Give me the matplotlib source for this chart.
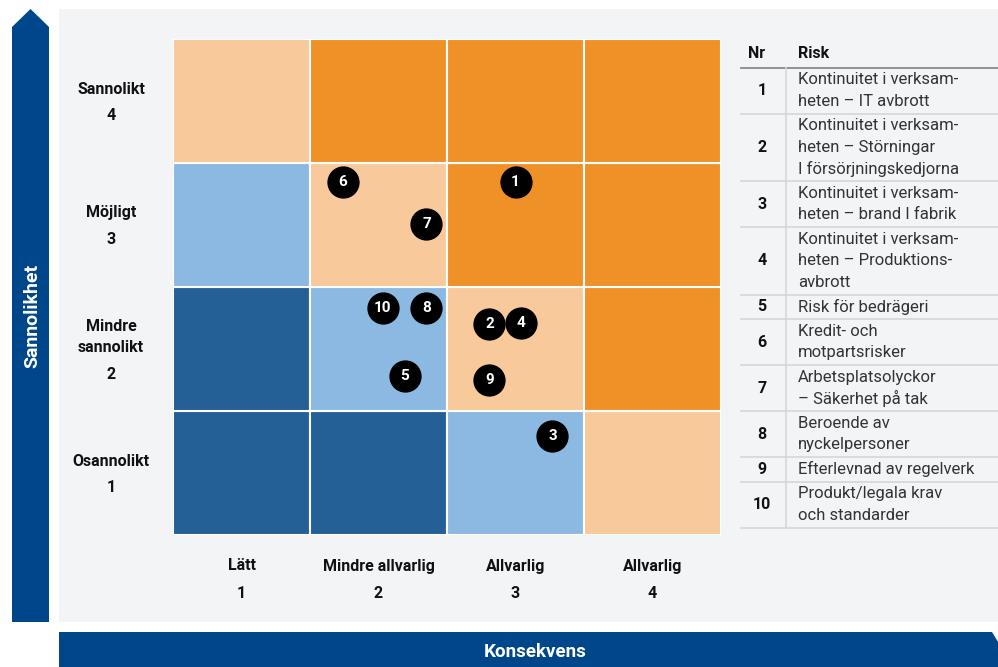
import matplotlib
matplotlib.use("Agg")
import matplotlib.pyplot as plt
from matplotlib.patches import Polygon, Rectangle

plt.rcParams['font.family'] = ['Roboto', 'DejaVu Sans']

# ---------------- data ----------------
prob_names = ["Osannolikt", "Mindre\nsannolikt", "Möjligt", "Sannolikt"]
prob_nums = ["1", "2", "3", "4"]
cons_names = ["Lätt", "Mindre allvarlig", "Allvarlig", "Allvarlig"]
cons_nums = ["1", "2", "3", "4"]
# cell level: rows bottom (1) -> top (4), columns 1..4 ; 0 dark blue, 1 light blue, 2 peach, 3 orange
cell_levels = [
    [0, 0, 1, 2],
    [0, 1, 2, 3],
    [1, 2, 3, 3],
    [2, 3, 3, 3],
]
level_colors = ["#245f96", "#8cb9e2", "#f8c99b", "#f09128"]

risk_ids = ["1", "2", "3", "4", "5", "6", "7", "8", "9", "10"]
risk_cons = [3.00, 2.81, 3.27, 3.04, 2.19, 1.74, 2.35, 2.35, 2.81, 2.03]
risk_prob = [3.35, 2.20, 1.30, 2.21, 1.78, 3.35, 3.01, 2.33, 1.75, 2.33]

risk_texts = [
    "Kontinuitet i verksam-\nheten – IT avbrott",
    "Kontinuitet i verksam-\nheten – Störningar\nI försörjningskedjorna",
    "Kontinuitet i verksam-\nheten – brand I fabrik",
    "Kontinuitet i verksam-\nheten – Produktions-\navbrott",
    "Risk för bedrägeri",
    "Kredit- och\nmotpartsrisker",
    "Arbetsplatsolyckor\n– Säkerhet på tak",
    "Beroende av\nnyckelpersoner",
    "Efterlevnad av regelverk",
    "Produkt/legala krav\noch standarder",
]

W, H = 998, 667
fig = plt.figure(figsize=(W / 100, H / 100), dpi=100)
fig.patch.set_facecolor("white")

# background / decoration axes in pixel coordinates
bg = fig.add_axes([0, 0, 1, 1])
bg.set_xlim(0, W)
bg.set_ylim(H, 0)
bg.axis("off")

navy = "#00468a"
bg.add_patch(Rectangle((59, 9), W - 59, 613, facecolor="#f3f4f6", edgecolor="none"))
bg.add_patch(Polygon([(12, 27), (30.5, 9), (49, 27), (49, 622), (12, 622)],
                     closed=True, facecolor=navy, edgecolor="none"))
bg.text(32, 316, "Sannolikhet", rotation=90, color="white", fontsize=14,
        fontweight="bold", ha="center", va="center")
bg.add_patch(Polygon([(59, 632), (992, 632), (1000, 645), (1000, 667), (59, 667)],
                     closed=True, facecolor=navy, edgecolor="none"))
bg.text(535, 652, "Konsekvens", color="white", fontsize=13.5, fontweight="bold",
        ha="center", va="center")

# ---------------- matrix axes ----------------
gx0, gx1, gy0, gy1 = 173, 721, 39, 535
ax = fig.add_axes([gx0 / W, 1 - gy1 / H, (gx1 - gx0) / W, (gy1 - gy0) / H])
ax.set_xlim(0.5, 4.5)
ax.set_ylim(0.5, 4.5)
ax.axis("off")
for r, row in enumerate(cell_levels):
    for c, lvl in enumerate(row):
        ax.add_patch(Rectangle((c + 0.5, r + 0.5), 1, 1, facecolor=level_colors[lvl],
                               edgecolor="white", linewidth=1.5))

ax.scatter(risk_cons, risk_prob, s=540, color="black", zorder=3, linewidths=0)
for rid, x, y in zip(risk_ids, risk_cons, risk_prob):
    ax.text(x, y, rid, color="white", fontsize=11, fontweight="bold",
            ha="center", va="center", zorder=4)

lab_kw = dict(textcoords="offset pixels", ha="center", va="center",
              fontsize=11.5, fontweight="bold", color="#111111")
# probability labels: name lines (21px apart) then number 27px below
for i, (name, num) in enumerate(zip(prob_names, prob_nums)):
    lines = name.split("\n")
    n = len(lines)
    total = 21 * (n - 1) + 27
    start = total / 2 - 1.5
    for k, ln in enumerate(lines):
        ax.annotate(ln, xy=(0.5, i + 1), xycoords="data",
                    xytext=(-62, start - 21 * k), **lab_kw)
    ax.annotate(num, xy=(0.5, i + 1), xycoords="data",
                xytext=(-62, start - 21 * (n - 1) - 27), **lab_kw)
for i, (name, num) in enumerate(zip(cons_names, cons_nums)):
    ax.annotate(name, xy=(i + 1, 0.5), xycoords="data", xytext=(0, -31), **lab_kw)
    ax.annotate(num, xy=(i + 1, 0.5), xycoords="data", xytext=(0, -58), **lab_kw)

# ---------------- table ----------------
tx0, tx1 = 741, 998
num_x, txt_x, div_x = 762, 798, 786
bg.text(757, 53, "Nr", fontsize=11.5, fontweight="bold", ha="center", va="center", color="#111111")
bg.text(txt_x, 53, "Risk", fontsize=11.5, fontweight="bold", ha="left", va="center", color="#111111")
top = 67.7
bg.plot([tx0, tx1], [top, top], color="#8a8a8a", lw=1.3)
line_h = 21.5
y = top
for rid, txt in zip(risk_ids, risk_texts):
    n = txt.count("\n") + 1
    h = line_h * n + 3
    yc = y + h / 2
    bg.text(num_x, yc, rid, fontsize=11.5, fontweight="bold", ha="center", va="center", color="#111111")
    for k, ln in enumerate(txt.split("\n")):
        ly = yc + (k - (n - 1) / 2) * line_h
        bg.text(txt_x, ly, ln, fontsize=12, ha="left", va="center", color="#333333")
    y += h
    bg.plot([tx0, tx1], [y, y], color="#d6d6d6", lw=1.2)
bg.plot([div_x, div_x], [top, y], color="#d6d6d6", lw=1.2)

fig.savefig("out.png", dpi=100)
